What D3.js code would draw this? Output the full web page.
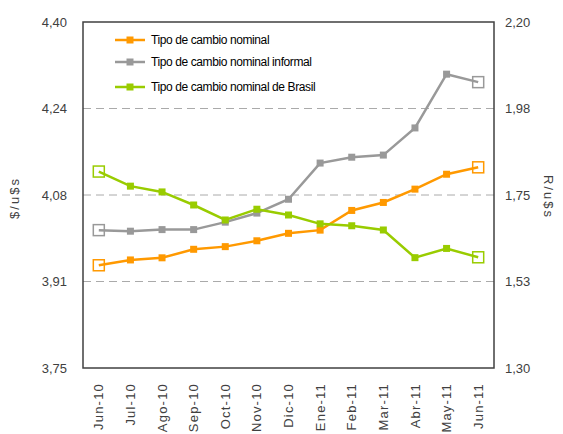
<!DOCTYPE html>
<html><head><meta charset="utf-8">
<script src="https://cdn.jsdelivr.net/npm/d3@7"></script>
<style>body{margin:0;background:#fff}svg{display:block}text{font-family:"Liberation Sans",Arial,sans-serif}</style>
</head><body><svg id="c" width="563" height="434"></svg>
<script>
const categories=["Jun-10","Jul-10","Ago-10","Sep-10","Oct-10","Nov-10","Dic-10","Ene-11","Feb-11","Mar-11","Abr-11","May-11","Jun-11"];
const nominal=[3.943,3.953,3.957,3.973,3.978,3.989,4.003,4.009,4.046,4.061,4.086,4.114,4.127];
const informal=[4.009,4.007,4.010,4.010,4.024,4.041,4.067,4.135,4.146,4.150,4.201,4.302,4.287];
const brasil=[1.811,1.773,1.758,1.724,1.685,1.713,1.698,1.675,1.670,1.659,1.587,1.611,1.588];
const leftTicks=[3.75,3.9125,4.075,4.2375,4.40];
const rightTicks=[1.30,1.525,1.75,1.975,2.20];
const seriesNames=["Tipo de cambio nominal","Tipo de cambio nominal informal","Tipo de cambio nominal de Brasil"];
const colors=["#FF9900","#999999","#99CC00"];

const svg=d3.select("#c");
const L=83,R=494,T=22,B=368;
const x=d3.scaleBand().domain(categories).range([L,R]);
const yL=d3.scaleLinear().domain([3.75,4.40]).range([B,T]);
const yR=d3.scaleLinear().domain([1.30,2.20]).range([B,T]);
const fmt=v=>(v+1e-9).toFixed(2).replace(".",",");

// gridlines
svg.append("g").selectAll("line").data(leftTicks.slice(1,4)).join("line")
  .attr("x1",L).attr("x2",R).attr("y1",d=>yL(d)).attr("y2",d=>yL(d))
  .attr("stroke","#aaaaaa").attr("stroke-width",1).attr("stroke-dasharray","8,5");

// axes (labels only)
const gL=svg.append("g").attr("transform",`translate(${L},0)`)
  .call(d3.axisLeft(yL).tickValues(leftTicks).tickFormat(fmt).tickSize(0).tickPadding(16));
gL.select(".domain").remove();
gL.selectAll("text").attr("font-size",13).attr("fill","#404040").attr("font-family","Liberation Sans, Arial");
const gR=svg.append("g").attr("transform",`translate(${R},0)`)
  .call(d3.axisRight(yR).tickValues(rightTicks).tickFormat(fmt).tickSize(0).tickPadding(11));
gR.select(".domain").remove();
gR.selectAll("text").attr("font-size",13).attr("fill","#404040").attr("font-family","Liberation Sans, Arial");
const gX=svg.append("g").attr("transform",`translate(0,${B})`)
  .call(d3.axisBottom(x).tickSize(0).tickPadding(0));
gX.select(".domain").remove();
gX.selectAll("text").attr("font-size",13).attr("fill","#404040").attr("font-family","Liberation Sans, Arial")
  .attr("letter-spacing","1.2px")
  .attr("text-anchor","end").attr("dy","0.35em")
  .attr("transform",d=>`translate(0,15) rotate(-90)`).attr("x",0).attr("y",0);

// plot border
svg.append("rect").attr("x",L).attr("y",T).attr("width",R-L).attr("height",B-T)
  .attr("fill","none").attr("stroke","#404040").attr("stroke-width",1.5);

// axis titles
svg.append("text").attr("transform",`translate(19,198) rotate(-90)`).attr("text-anchor","middle")
  .attr("font-size",13).attr("fill","#404040").attr("letter-spacing","2px").text("$/u$s");
svg.append("text").attr("transform",`translate(544,197) rotate(90)`).attr("text-anchor","middle")
  .attr("font-size",13).attr("fill","#404040").attr("letter-spacing","2px").text("R/u$s");

const cx=d=>x(d)+x.bandwidth()/2;
const series=[{v:nominal,y:yL},{v:informal,y:yL},{v:brasil,y:yR}];
series.forEach((s,i)=>{
  const pts=s.v.map((v,j)=>[cx(categories[j]),s.y(v)]);
  svg.append("path").attr("d",d3.line()(pts)).attr("fill","none").attr("stroke",colors[i]).attr("stroke-width",2.5);
  const n=pts.length;
  svg.append("g").selectAll("rect").data(pts.slice(1,n-1)).join("rect")
    .attr("x",d=>d[0]-3.5).attr("y",d=>d[1]-3.5).attr("width",7).attr("height",7).attr("fill",colors[i]);
  svg.append("g").selectAll("rect").data([pts[0],pts[n-1]]).join("rect")
    .attr("x",d=>d[0]-5.5).attr("y",d=>d[1]-5.5).attr("width",11).attr("height",11)
    .attr("fill","none").attr("stroke",colors[i]).attr("stroke-width",1.5);
});

// legend
const legY=[40,62,87];
seriesNames.forEach((n,i)=>{
  const g=svg.append("g").attr("transform",`translate(115,${legY[i]})`);
  g.append("line").attr("x1",0).attr("x2",30).attr("stroke",colors[i]).attr("stroke-width",2.5);
  g.append("rect").attr("x",11.5).attr("y",-3.5).attr("width",7).attr("height",7).attr("fill",colors[i]);
  g.append("text").attr("x",36).attr("dy","0.35em").attr("font-size",12).attr("letter-spacing","-0.4px").attr("fill","#000").text(n);
});
</script></body></html>
